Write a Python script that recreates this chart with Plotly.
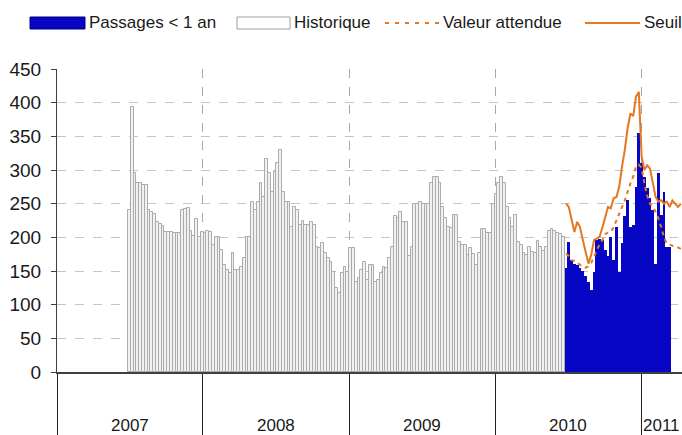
import pandas as pd
import plotly.graph_objects as go

# weekly counts
historique = [
    240, 393, 295, 280, 280, 278, 277, 240, 237, 235, 223, 220, 217, 208, 208,
    208, 206, 206, 206, 240, 242, 243, 210, 202, 227, 200, 208, 206, 210, 208,
    189, 201, 201, 181, 159, 151, 147, 176, 152, 152, 156, 169, 201, 201, 253,
    240, 253, 281, 260, 317, 295, 268, 297, 310, 329, 268, 253, 253, 216, 245,
    240, 218, 225, 218, 218, 223, 218, 186, 184, 191, 176, 169, 164, 149, 125,
    118, 147, 156, 149, 184, 184, 134, 139, 151, 164, 136, 159, 159, 134, 136,
    147, 156, 154, 169, 186, 231, 229, 238, 223, 223, 172, 186, 250, 250, 253,
    250, 250, 250, 280, 289, 289, 280, 245, 229, 216, 214, 233, 233, 193, 189,
    189, 174, 184, 175, 159, 176, 213, 213, 206, 206, 250, 265, 280, 290, 280,
    245, 228, 216, 233, 193, 189, 176, 174, 185, 178, 176, 195, 185, 180, 185,
    210, 212, 209, 206, 205, 200,
]
passages = [
    154, 193, 166, 161, 159, 154, 150, 142, 134, 122, 148, 196, 197, 196, 181,
    172, 201, 166, 216, 149, 191, 231, 255, 216, 219, 275, 355, 310, 290, 273,
    258, 240, 161, 295, 233, 268, 186, 186,
]
valeur_attendue = [
    176, 172, 166, 165, 162, 159, 156, 155, 157, 162, 172, 182, 190, 196, 205,
    207, 208, 215, 226, 235, 245, 255, 268, 280, 290, 305, 308, 303, 280, 262,
    250, 245, 238, 228, 215, 200, 191, 189, 187, 186, 185, 183,
]
seuil = [
    250, 245, 226, 208, 223, 215, 196, 179, 161, 174, 196, 198, 201, 215, 231,
    245, 243, 258, 260, 275, 305, 330, 362, 384, 380, 409, 416, 320, 300, 307,
    302, 280, 260, 253, 255, 250, 253, 245, 255, 250, 245, 250,
]
year_starts = ['2007-01-01', '2008-01-01', '2009-01-01', '2010-01-01', '2011-01-01']
year_labels = ['2007', '2008', '2009', '2010', '2011']
year_label_pos = ['2007-07-02', '2008-07-02', '2009-07-02', '2010-07-02', '2011-01-01']

hist_dates = pd.date_range('2007-07-01', periods=len(historique), freq='7D')
cur_dates = pd.date_range('2010-06-27', periods=len(passages), freq='7D')
line_dates = pd.date_range('2010-06-27', periods=len(seuil), freq='7D')
WEEK_MS = 7 * 24 * 3600 * 1000

W, H = 682, 435
L, R, T, B = 57, 0, 69, 63
FONT = 'Liberation Sans, Arial, sans-serif'
BLUE = '#0606c4'
ORANGE = '#e5781f'


def px(x):
    return (x - L) / (W - L - R)


def py(y):
    return (H - B - y) / (H - T - B)


fig = go.Figure()
fig.add_trace(go.Bar(
    x=hist_dates, y=historique, width=WEEK_MS,
    marker=dict(color='#f1f1f1', line=dict(color='#ababab', width=1)),
    showlegend=False,
))
fig.add_trace(go.Bar(
    x=cur_dates, y=passages, width=WEEK_MS,
    marker=dict(color=BLUE, line=dict(width=0)),
    showlegend=False,
))
fig.add_trace(go.Scatter(
    x=line_dates, y=valeur_attendue, mode='lines',
    line=dict(color=ORANGE, width=2, dash='4px,4px'),
    showlegend=False,
))
fig.add_trace(go.Scatter(
    x=line_dates, y=seuil, mode='lines',
    line=dict(color=ORANGE, width=2),
    showlegend=False,
))

# hand-drawn legend (wide swatches like the original)
leg_y0, leg_y1, leg_mid = py(29), py(17), py(23)
fig.add_shape(type='rect', xref='paper', yref='paper', x0=px(30), x1=px(85),
              y0=leg_y0, y1=leg_y1, fillcolor=BLUE, line=dict(color='#00008a', width=1))
fig.add_shape(type='rect', xref='paper', yref='paper', x0=px(237), x1=px(290),
              y0=leg_y0, y1=leg_y1, fillcolor='white', line=dict(color='#a0a0a0', width=1))
fig.add_shape(type='line', xref='paper', yref='paper', x0=px(385), x1=px(440),
              y0=leg_mid, y1=leg_mid, line=dict(color=ORANGE, width=2, dash='4px,6px'))
fig.add_shape(type='line', xref='paper', yref='paper', x0=px(585), x1=px(640),
              y0=leg_mid, y1=leg_mid, line=dict(color=ORANGE, width=2))
for x_txt, txt in [(87, 'Passages &lt; 1 an'), (292, 'Historique'),
                   (441, 'Valeur attendue'), (642, 'Seuil')]:
    fig.add_annotation(x=px(x_txt), y=leg_mid, xref='paper', yref='paper',
                       text=txt, showarrow=False, xanchor='left', yanchor='middle',
                       font=dict(family=FONT, size=17, color='#1a1a1a'))

for pos, lab in zip(year_label_pos, year_labels):
    fig.add_annotation(x=pos, y=py(425), xref='x', yref='paper', text=lab,
                       showarrow=False, xanchor='left' if lab == '2011' else 'center',
                       yanchor='middle', font=dict(family=FONT, size=17, color='#1a1a1a'))

fig.update_layout(
    width=W, height=H,
    margin=dict(l=L, r=R, t=T, b=B, pad=0),
    paper_bgcolor='white', plot_bgcolor='white',
    barmode='overlay', bargap=0,
    font=dict(family=FONT, size=18, color='#1a1a1a'),
    xaxis=dict(
        type='date', range=['2007-01-01', '2011-04-13'],
        tickmode='array', tickvals=year_starts, showticklabels=False,
        ticks='outside', ticklen=B, tickcolor='#202020', tickwidth=1,
        showgrid=True, gridcolor='#a8a8a8', griddash='dash', gridwidth=1,
        showline=True, linecolor='#404040', linewidth=2,
        zeroline=False,
    ),
    yaxis=dict(
        range=[0, 450], dtick=50, tick0=0,
        ticks='outside', ticklen=5, tickcolor='#404040',
        ticklabelstandoff=6,
        showgrid=True, gridcolor='#c4c4c4', griddash='dash', gridwidth=1,
        showline=True, linecolor='#404040', linewidth=1,
        zeroline=False,
        tickfont=dict(family=FONT, size=19, color='#1a1a1a'),
    ),
)

# the page's default body margin would push the chart 8px off the window
fig.write_html('out.html', config={'displayModeBar': False},
               post_script="document.body.style.margin='0';")
